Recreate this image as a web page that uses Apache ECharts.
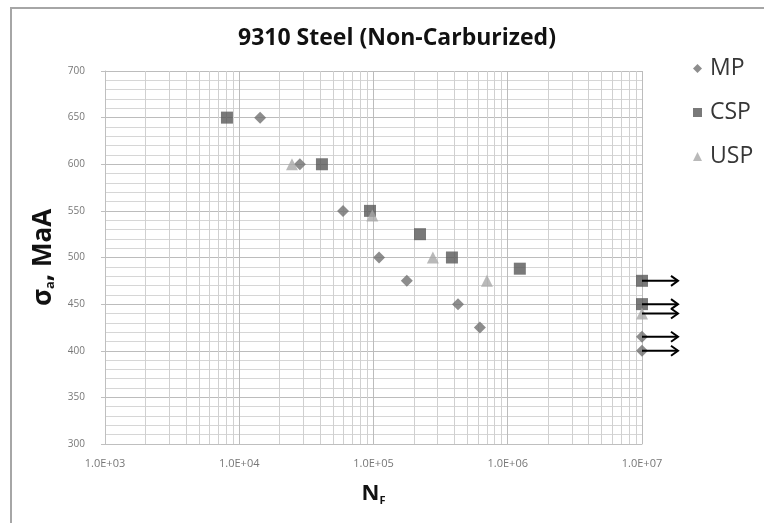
<!DOCTYPE html>
<html>
<head>
<meta charset="utf-8">
<script src="https://cdn.jsdelivr.net/npm/echarts@6/dist/echarts.min.js"></script>
<style>
  html, body { margin: 0; padding: 0; background: #fff; }
  #chart { width: 764px; height: 523px; }
</style>
</head>
<body>
<div id="chart"></div>
<script>
// cycles to failure (N_F) and alternating stress (MPa) per peening process
const mpCycles = [14300, 28300, 59300, 110000, 177000, 426000, 620000];
const mpStress = [650, 600, 550, 500, 475, 450, 425];
const cspCycles = [8100, 41300, 94200, 222000, 384000, 1230000];
const cspStress = [650, 600, 550, 525, 500, 488];
const uspCycles = [24700, 98000, 277000, 700000];
const uspStress = [600, 545, 500, 475];

// run-outs (no failure at 1.0E+07 cycles)
const runoutCycles = 1e7;
const mpRunout = [415, 400];
const cspRunout = [475, 450];
const uspRunout = [440];

const decades = [1e3, 1e4, 1e5, 1e6];
const minorSteps = [2, 3, 4, 5, 6, 7, 8, 9];

const FONT = '"Open Sans", Lato, sans-serif';

function pairs(xs, ys) {
    return xs.map((x, i) => [x, ys[i]]);
}
function runouts(ys) {
    return ys.map(y => [runoutCycles, y]);
}

// log-axis minor grid lines at 2..9 of each decade
const minorLines = [];
decades.forEach(d => minorSteps.forEach(m => minorLines.push({ xAxis: d * m })));

const chart = echarts.init(document.getElementById('chart'));

const option = {
    animation: false,
    title: {
        text: '9310 Steel (Non-Carburized)',
        left: 392,
        top: 22,
        textAlign: 'center',
        textStyle: { fontFamily: FONT, fontSize: 23, fontWeight: 'bold', color: '#111' }
    },
    legend: {
        orient: 'vertical',
        left: 688,
        top: 52,
        itemGap: 21,
        itemWidth: 9,
        itemHeight: 9,
        textStyle: { fontFamily: FONT, fontSize: 23, color: '#363636', padding: [0, 0, 0, 3] },
        data: [
            { name: 'MP', icon: 'diamond' },
            { name: 'CSP', icon: 'rect' },
            { name: 'USP', icon: 'triangle' }
        ]
    },
    grid: { left: 105, right: 122, top: 71, bottom: 79 },
    xAxis: {
        type: 'log',
        logBase: 10,
        min: 1e3,
        max: 1e7,
        name: 'N{sub|F}',
        nameLocation: 'middle',
        nameGap: 37,
        nameTextStyle: {
            fontFamily: FONT, fontSize: 22, fontWeight: 'bold', color: '#111',
            rich: { sub: { fontFamily: FONT, fontSize: 11, fontWeight: 'bold', color: '#111', padding: [14, 0, 0, 0] } }
        },
        axisLine: { lineStyle: { color: '#bfbfbf' } },
        axisTick: { show: false },
        axisLabel: {
            fontFamily: FONT, fontSize: 11, color: '#777', margin: 14,
            formatter: v => {
                const e = Math.round(Math.log10(v));
                return '1.0E+' + String(e).padStart(2, '0');
            }
        },
        splitLine: { show: true, lineStyle: { color: '#bcbcbc' } }
    },
    yAxis: {
        type: 'value',
        min: 300,
        max: 700,
        interval: 50,
        name: 'σ{sub|a}, MaA',
        nameLocation: 'middle',
        nameGap: 42,
        nameTextStyle: {
            fontFamily: FONT, fontSize: 26, fontWeight: 'bold', color: '#111',
            rich: { sub: { fontFamily: FONT, fontSize: 13, fontWeight: 'bold', color: '#111', padding: [14, 0, 0, 0] } }
        },
        axisLine: { show: true, lineStyle: { color: '#bfbfbf' } },
        axisTick: { show: true, length: 4, lineStyle: { color: '#bfbfbf' } },
        axisLabel: { fontFamily: FONT, fontSize: 10, color: '#777', margin: 20 },
        splitLine: { show: true, lineStyle: { color: '#bcbcbc' } },
        minorTick: { show: false, splitNumber: 5 },
        minorSplitLine: { show: true, lineStyle: { color: '#d6d6d6' } }
    },
    series: [
        {
            name: 'grid-minor',
            type: 'scatter',
            data: [],
            silent: true,
            z: 1,
            markLine: {
                silent: true,
                symbol: 'none',
                label: { show: false },
                lineStyle: { color: '#d0d0d0', type: 'solid', width: 1 },
                data: minorLines
            }
        },
        {
            name: 'MP',
            type: 'scatter',
            symbol: 'diamond',
            symbolSize: 12,
            z: 5,
            itemStyle: { color: '#707070' },
            data: pairs(mpCycles, mpStress).concat(runouts(mpRunout))
        },
        {
            name: 'CSP',
            type: 'scatter',
            symbol: 'rect',
            symbolSize: 12,
            z: 5,
            itemStyle: { color: '#575757' },
            data: pairs(cspCycles, cspStress).concat(runouts(cspRunout))
        },
        {
            name: 'USP',
            type: 'scatter',
            symbol: 'triangle',
            symbolSize: 12,
            z: 5,
            itemStyle: { color: '#a8a8a8' },
            data: pairs(uspCycles, uspStress).concat(runouts(uspRunout))
        }
    ],
    graphic: []
};

chart.setOption(option);

// frame around the chart and run-out arrows (pixel positions from the axes)
const runoutAll = mpRunout.concat(cspRunout, uspRunout);
const graphics = [{
    type: 'rect',
    shape: { x: 11, y: 8, width: 800, height: 600 },
    style: { fill: 'none', stroke: '#a6a6a6', lineWidth: 2 },
    silent: true,
    z: -10
}];
runoutAll.forEach(y => {
    const p = chart.convertToPixel({ gridIndex: 0 }, [runoutCycles, y]);
    const x0 = p[0], yy = p[1], x1 = p[0] + 36;
    graphics.push({
        type: 'line',
        shape: { x1: x0, y1: yy, x2: x1, y2: yy },
        style: { stroke: '#000', lineWidth: 2 },
        z: 20
    });
    graphics.push({
        type: 'polyline',
        shape: { points: [[x1 - 7, yy - 5], [x1, yy], [x1 - 7, yy + 5]] },
        style: { stroke: '#000', lineWidth: 2, fill: 'none' },
        z: 20
    });
});
chart.setOption({ graphic: graphics });
</script>
</body>
</html>
